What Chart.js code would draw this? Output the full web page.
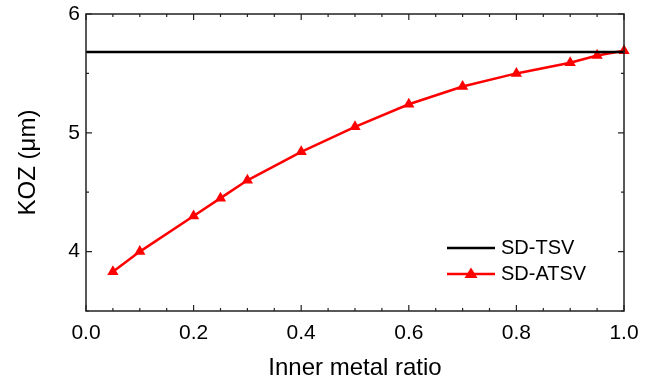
<!DOCTYPE html>
<html>
<head>
<meta charset="utf-8">
<script src="https://cdn.jsdelivr.net/npm/chart.js@4.4.1/dist/chart.umd.min.js"></script>
<style>
  html, body { margin: 0; padding: 0; background: #fff; }
  #wrap { width: 654px; height: 384px; }
</style>
</head>
<body>
<div id="wrap"><canvas id="kozChart" width="654" height="384"></canvas></div>
<script>
// Data
const ratio = [0.05, 0.1, 0.2, 0.25, 0.3, 0.4, 0.5, 0.6, 0.7, 0.8, 0.9, 0.95, 1.0];
const atsvKoz = [3.83, 4.00, 4.30, 4.45, 4.60, 4.84, 5.05, 5.24, 5.39, 5.50, 5.59, 5.65, 5.69];
const tsvX = [0, 1];
const tsvKoz = [5.68, 5.68];
const seriesNames = ['SD-TSV', 'SD-ATSV'];

const FONT = 'Liberation Sans, Arial, sans-serif';

// Box frame with inward ticks on all four sides
const frameTicks = {
  id: 'frameTicks',
  afterDatasetsDraw(chart) {
    const { ctx, chartArea: a, scales } = chart;
    ctx.save();
    ctx.strokeStyle = '#222';
    ctx.lineWidth = 1.5;
    ctx.strokeRect(a.left, a.top, a.right - a.left, a.bottom - a.top);
    ctx.lineWidth = 1.2;
    scales.x.ticks.forEach(t => {
      const x = scales.x.getPixelForValue(t.value);
      const major = Math.abs(t.value / 0.2 - Math.round(t.value / 0.2)) < 1e-6;
      const len = major ? 6 : 3;
      ctx.beginPath();
      ctx.moveTo(x, a.bottom); ctx.lineTo(x, a.bottom - len);
      ctx.moveTo(x, a.top); ctx.lineTo(x, a.top + len);
      ctx.stroke();
    });
    scales.y.ticks.forEach(t => {
      const y = scales.y.getPixelForValue(t.value);
      const major = Math.abs(t.value - Math.round(t.value)) < 1e-6;
      const len = major ? 6 : 3;
      ctx.beginPath();
      ctx.moveTo(a.left, y); ctx.lineTo(a.left + len, y);
      ctx.moveTo(a.right, y); ctx.lineTo(a.right - len, y);
      ctx.stroke();
    });
    ctx.restore();
  }
};

// Legend inside the plot, lower right
const boxLegend = {
  id: 'boxLegend',
  afterDraw(chart) {
    const { ctx, chartArea: a } = chart;
    const x0 = a.right - 177, x1 = x0 + 48;
    const rows = [a.bottom - 63, a.bottom - 37];
    ctx.save();
    ctx.font = '20px ' + FONT;
    ctx.textBaseline = 'middle';
    ctx.fillStyle = '#000';
    chart.data.datasets.forEach((ds, i) => {
      const y = rows[i];
      ctx.strokeStyle = ds.borderColor;
      ctx.lineWidth = 2.5;
      ctx.beginPath(); ctx.moveTo(x0, y); ctx.lineTo(x1, y); ctx.stroke();
      if (ds.pointRadius > 0) {
        const r = 6.5, cx = (x0 + x1) / 2;
        ctx.fillStyle = ds.pointBackgroundColor;
        ctx.beginPath();
        ctx.moveTo(cx, y - r);
        ctx.lineTo(cx + r, y + r * 0.6);
        ctx.lineTo(cx - r, y + r * 0.6);
        ctx.closePath(); ctx.fill();
      }
      ctx.fillStyle = '#000';
      ctx.fillText(ds.label, x1 + 6, y);
    });
    ctx.restore();
  }
};

new Chart(document.getElementById('kozChart').getContext('2d'), {
  type: 'scatter',
  data: {
    datasets: [
      {
        label: seriesNames[0],
        data: tsvX.map((x, i) => ({ x, y: tsvKoz[i] })),
        showLine: true,
        borderColor: '#000',
        borderWidth: 2.5,
        pointRadius: 0
      },
      {
        label: seriesNames[1],
        data: ratio.map((x, i) => ({ x, y: atsvKoz[i] })),
        showLine: true,
        borderColor: '#ff0000',
        borderWidth: 2.5,
        pointStyle: 'triangle',
        pointRadius: 6.5,
        pointBackgroundColor: '#ff0000',
        pointBorderColor: '#ff0000',
        pointBorderWidth: 0
      }
    ]
  },
  options: {
    responsive: false,
    animation: false,
    clip: false,
    layout: { padding: { top: 14, right: 30, left: 10, bottom: 0 } },
    plugins: { legend: { display: false }, tooltip: { enabled: false } },
    scales: {
      x: {
        type: 'linear', min: 0, max: 1,
        grid: { display: false },
        border: { display: false },
        afterFit(s) { s.height = 73; },
        ticks: {
          stepSize: 0.05, autoSkip: false, maxRotation: 0, padding: 2,
          color: '#000', font: { family: FONT, size: 21 },
          callback: v => Math.abs(v / 0.2 - Math.round(v / 0.2)) < 1e-6 ? v.toFixed(1) : ''
        },
        title: { display: true, text: 'Inner metal ratio', color: '#000', font: { family: FONT, size: 24 }, padding: { top: 0, bottom: 1 } }
      },
      y: {
        min: 3.5, max: 6,
        grid: { display: false },
        border: { display: false },
        afterFit(s) { s.width = 76; s.paddingTop = 0; s.paddingBottom = 0; },
        ticks: {
          stepSize: 0.5, autoSkip: false, padding: -2,
          color: '#000', font: { family: FONT, size: 21 },
          callback: v => Number.isInteger(v) ? String(v) : ''
        },
        title: { display: true, text: 'KOZ (\u03bcm)', color: '#000', font: { family: FONT, size: 24 }, padding: { bottom: 4 } }
      }
    }
  },
  plugins: [frameTicks, boxLegend]
});
</script>
</body>
</html>
